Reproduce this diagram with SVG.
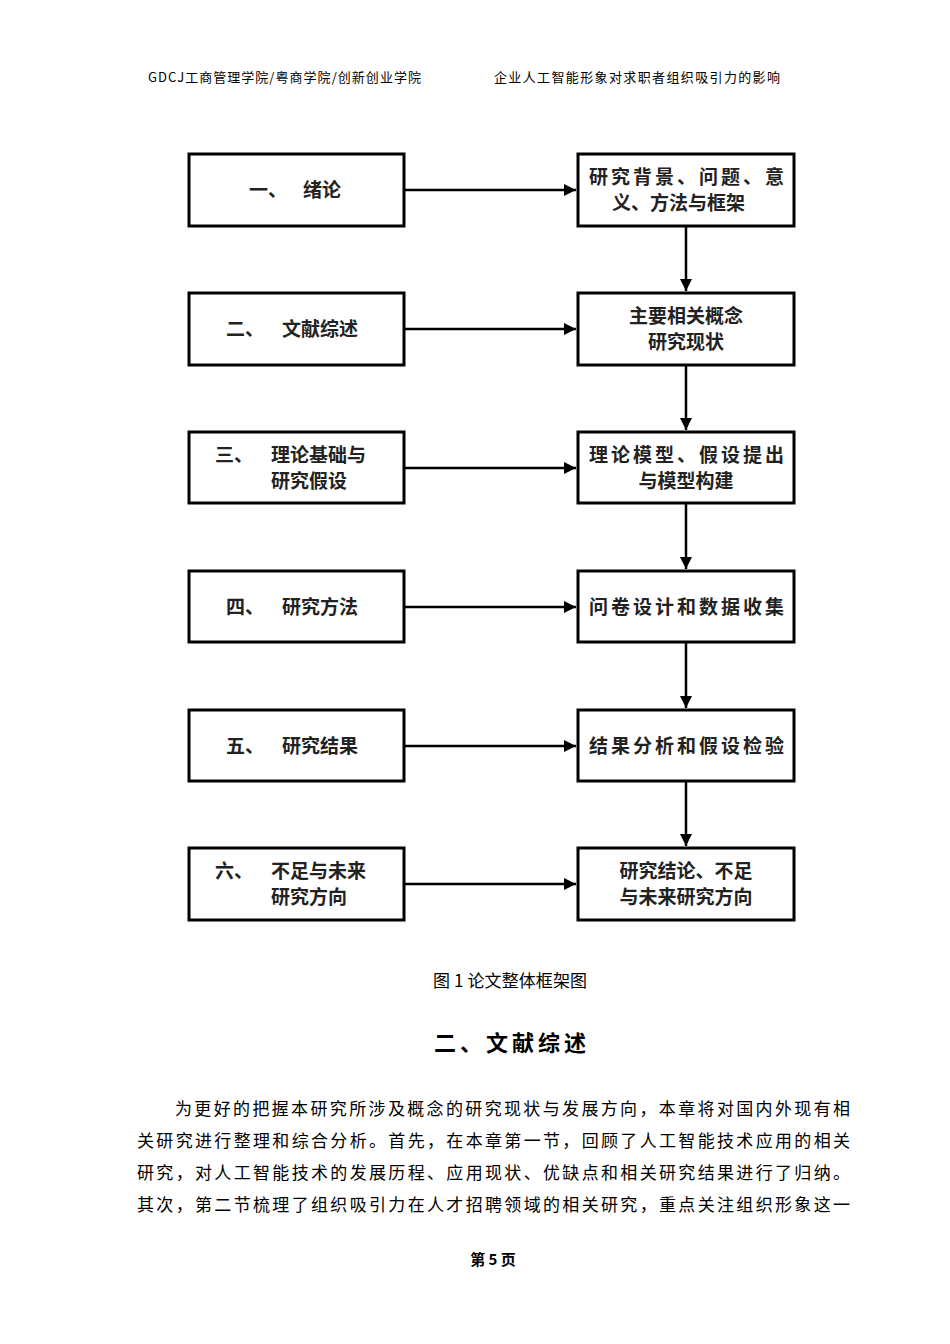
<svg xmlns="http://www.w3.org/2000/svg" width="950" height="1344" viewBox="0 0 950 1344">
<defs>
<style>
.b{fill:#fff;stroke:#000;stroke-width:3}
.t{font-family:"Noto Sans CJK SC",sans-serif;font-size:19px;font-weight:600;fill:#222}
.h{font-family:"Noto Sans CJK SC",sans-serif;font-size:13px;fill:#000}
.p{font-family:"Noto Sans CJK SC",sans-serif;font-size:17px;fill:#000}
.c line{stroke:#000;stroke-width:2.5}
</style>
<marker id="a" viewBox="0 0 10 10" refX="10" refY="5" markerWidth="5" markerHeight="5" orient="auto"><path d="M0,0L10,5L0,10z" fill="#000"/></marker>
</defs>
<rect width="950" height="1344" fill="#fff"/>
<text class="h" x="148" y="82" textLength="273">GDCJ工商管理学院/粤商学院/创新创业学院</text>
<text class="h" x="494" y="82" textLength="286">企业人工智能形象对求职者组织吸引力的影响</text>
<g class="c">
<line x1="404" y1="190" x2="576" y2="190" marker-end="url(#a)"/>
<line x1="404" y1="329" x2="576" y2="329" marker-end="url(#a)"/>
<line x1="404" y1="468" x2="576" y2="468" marker-end="url(#a)"/>
<line x1="404" y1="607" x2="576" y2="607" marker-end="url(#a)"/>
<line x1="404" y1="746" x2="576" y2="746" marker-end="url(#a)"/>
<line x1="404" y1="884" x2="576" y2="884" marker-end="url(#a)"/>
<line x1="686" y1="226" x2="686" y2="291" marker-end="url(#a)"/>
<line x1="686" y1="365" x2="686" y2="430" marker-end="url(#a)"/>
<line x1="686" y1="503" x2="686" y2="569" marker-end="url(#a)"/>
<line x1="686" y1="642" x2="686" y2="708" marker-end="url(#a)"/>
<line x1="686" y1="781" x2="686" y2="846" marker-end="url(#a)"/>
</g>
<g id="l1"><rect class="b" x="189" y="154" width="215" height="72"/><text class="t" x="249" y="197">一、</text><text class="t" x="303" y="197">绪论</text></g>
<g id="l2"><rect class="b" x="189" y="293" width="215" height="72"/><text class="t" x="226" y="336">二、</text><text class="t" x="282" y="336">文献综述</text></g>
<g id="l3"><rect class="b" x="189" y="432" width="215" height="71"/><text class="t" x="215" y="462">三、</text><text class="t" x="271" y="462">理论基础与</text><text class="t" x="271" y="488">研究假设</text></g>
<g id="l4"><rect class="b" x="189" y="571" width="215" height="71"/><text class="t" x="226" y="614">四、</text><text class="t" x="282" y="614">研究方法</text></g>
<g id="l5"><rect class="b" x="189" y="710" width="215" height="71"/><text class="t" x="226" y="753">五、</text><text class="t" x="282" y="753">研究结果</text></g>
<g id="l6"><rect class="b" x="189" y="848" width="215" height="72"/><text class="t" x="215" y="878">六、</text><text class="t" x="271" y="878">不足与未来</text><text class="t" x="271" y="904">研究方向</text></g>
<g id="r1"><rect class="b" x="578" y="154" width="216" height="72"/><text class="t" x="589" y="184" textLength="195">研究背景、问题、意</text><text class="t" x="612" y="210">义、方法与框架</text></g>
<g id="r2"><rect class="b" x="578" y="293" width="216" height="72"/><text class="t" x="686" y="323" text-anchor="middle">主要相关概念</text><text class="t" x="686" y="349" text-anchor="middle">研究现状</text></g>
<g id="r3"><rect class="b" x="578" y="432" width="216" height="71"/><text class="t" x="589" y="462" textLength="195">理论模型、假设提出</text><text class="t" x="686" y="488" text-anchor="middle">与模型构建</text></g>
<g id="r4"><rect class="b" x="578" y="571" width="216" height="71"/><text class="t" x="589" y="614" textLength="195">问卷设计和数据收集</text></g>
<g id="r5"><rect class="b" x="578" y="710" width="216" height="71"/><text class="t" x="589" y="753" textLength="195">结果分析和假设检验</text></g>
<g id="r6"><rect class="b" x="578" y="848" width="216" height="72"/><text class="t" x="686" y="878" text-anchor="middle">研究结论、不足</text><text class="t" x="686" y="904" text-anchor="middle">与未来研究方向</text></g>
<text class="p" x="433" y="987" font-size="14" textLength="154">图 1  论文整体框架图</text>
<text x="510" y="1051" text-anchor="middle" font-family="Noto Sans CJK SC,sans-serif" font-size="22" font-weight="700" textLength="152">二、文献综述</text>
<text class="p" x="175" y="1115" textLength="675">为更好的把握本研究所涉及概念的研究现状与发展方向，本章将对国内外现有相</text>
<text class="p" x="137" y="1147" textLength="713">关研究进行整理和综合分析。首先，在本章第一节，回顾了人工智能技术应用的相关</text>
<text class="p" x="137" y="1179" textLength="713">研究，对人工智能技术的发展历程、应用现状、优缺点和相关研究结果进行了归纳。</text>
<text class="p" x="137" y="1211" textLength="713">其次，第二节梳理了组织吸引力在人才招聘领域的相关研究，重点关注组织形象这一</text>
<text x="493" y="1265" text-anchor="middle" font-family="Noto Sans CJK SC,sans-serif" font-size="15" font-weight="700">第 5 页</text>
</svg>
